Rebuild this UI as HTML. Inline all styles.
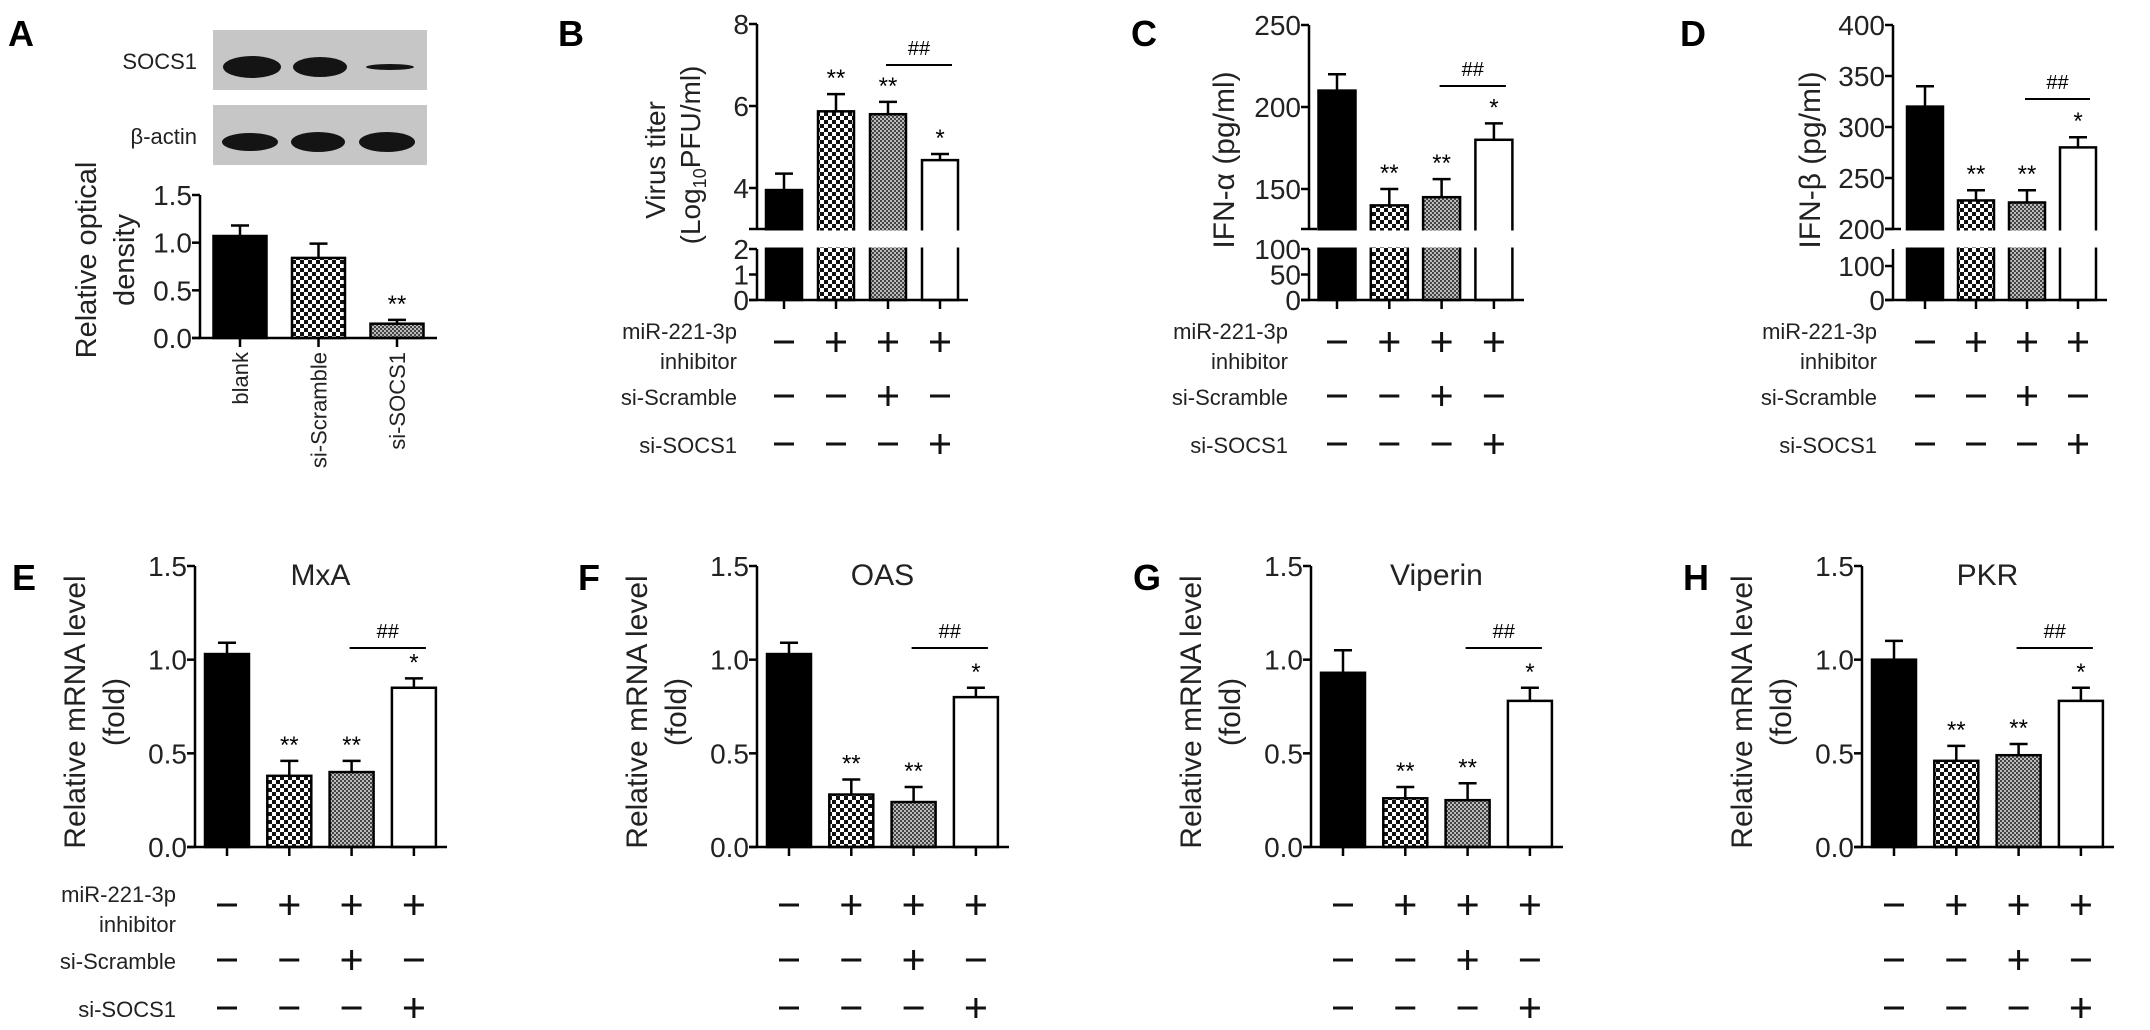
<!DOCTYPE html>
<html><head><meta charset="utf-8"><style>
html,body{margin:0;padding:0;background:#fff;}
svg{display:block;font-family:"Liberation Sans",Arial,sans-serif;}
</style></head><body>
<svg id="fig" width="2150" height="1030" viewBox="0 0 2150 1030" xmlns="http://www.w3.org/2000/svg">
<defs>
<pattern id="checker" width="8" height="8" patternUnits="userSpaceOnUse"><rect width="8" height="8" fill="#fff"/><rect width="4" height="4" fill="#111"/><rect x="4" y="4" width="4" height="4" fill="#111"/></pattern>
<pattern id="fine" width="4" height="4" patternUnits="userSpaceOnUse"><rect width="4" height="4" fill="#bbb"/><rect width="2" height="2" fill="#444"/><rect x="2" y="2" width="2" height="2" fill="#444"/></pattern>
</defs>
<g id="root"></g>
</svg>
<script>
// ---- data ----
const aCats = ["blank","si-Scramble","si-SOCS1"];
const aVals = [1.07, 0.84, 0.15];
const aErr = [0.11, 0.15, 0.04];
const aSig = ["", "", "**"];
const aTicks = ["0.0","0.5","1.0","1.5"];
const aTickVals = [0, 0.5, 1.0, 1.5];

const bVals = [3.95, 5.87, 5.80, 4.68];
const bErr = [0.40, 0.42, 0.30, 0.15];
const bTickVals = [0, 1, 2, 4, 6, 8];
const bTicks = ["0","1","2","4","6","8"];

const cVals = [210, 140, 145, 180];
const cErr = [10, 10, 11, 10];
const cTickVals = [0, 50, 100, 150, 200, 250];
const cTicks = ["0","50","100","150","200","250"];

const dVals = [320, 228, 226, 280];
const dErr = [20, 10, 12, 10];
const dTickVals = [0, 100, 200, 250, 300, 350, 400];
const dTicks = ["0","100","200","250","300","350","400"];

const eVals = [1.03, 0.38, 0.40, 0.85];
const eErr = [0.06, 0.08, 0.06, 0.05];
const fVals = [1.03, 0.28, 0.24, 0.80];
const fErr = [0.06, 0.08, 0.08, 0.05];
const gVals = [0.93, 0.26, 0.25, 0.78];
const gErr = [0.12, 0.06, 0.09, 0.07];
const hVals = [1.00, 0.46, 0.49, 0.78];
const hErr = [0.10, 0.08, 0.06, 0.07];
const mTickVals = [0, 0.5, 1.0, 1.5];
const mTicks = ["0.0","0.5","1.0","1.5"];

const sig4 = ["", "**", "**", "*"];
const inhSigns = ["-","+","+","+"];
const scrSigns = ["-","-","+","-"];
const socSigns = ["-","-","-","+"];

// ---- helpers ----
const NS = "http://www.w3.org/2000/svg";
const root = document.getElementById("root");
function el(tag, attrs, parent, txt){
  const e = document.createElementNS(NS, tag);
  for (const k in attrs) e.setAttribute(k, attrs[k]);
  if (txt !== undefined) e.textContent = txt;
  (parent || root).appendChild(e);
  return e;
}
const fills = ["#000", "url(#checker)", "url(#fine)", "#fff"];

function makeScale(segs){
  return function(v){
    for (const s of segs){
      if (v >= s.v0 && v <= s.v1) return s.y0 + (v - s.v0) / (s.v1 - s.v0) * (s.y1 - s.y0);
    }
    const lo = segs[0], hi = segs[segs.length-1];
    if (v > hi.v1) return hi.y1 + (v - hi.v1) / (hi.v1 - hi.v0) * (hi.y1 - hi.y0);
    return hi.y0;
  };
}

function panel(p){
  const g = el("g", {});
  
  
  const y = makeScale(p.segs);
  const nb = p.vals.length;
  const xc = i => p.ax + p.first + i * p.step;
  const y0 = y(0);
  // bars
  for (let i = 0; i < nb; i++){
    const top = y(p.vals[i]);
    const r = el("rect", {x: xc(i) - p.bw/2, y: top, width: p.bw, height: y0 - top,
      fill: p.fills[i], stroke: "#000", "stroke-width": 2.5}, g);
    
    
    const et = y(p.vals[i] + p.err[i]);
    el("line", {x1: xc(i), x2: xc(i), y1: top, y2: et, stroke: "#000", "stroke-width": 2.5}, g);
    el("line", {x1: xc(i) - 9, x2: xc(i) + 9, y1: et, y2: et, stroke: "#000", "stroke-width": 2.5}, g);
    if (p.sig[i]){
      const s = el("text", {x: xc(i), y: et - 8, "text-anchor": "middle", "font-size": 24}, g, p.sig[i]);
      
      
    }
  }
  // break gap
  if (p.segs.length > 1){
    const lower = p.segs[0], upper = p.segs[1];
    el("rect", {x: p.ax - 12, y: upper.y0 + 1.5, width: p.xEnd - p.ax + 20, height: lower.y1 - upper.y0 - 3, fill: "#fff"}, g);
    el("line", {x1: p.ax, x2: p.ax, y1: y(p.segs[1].v1), y2: upper.y0, stroke: "#000", "stroke-width": 2.5}, g);
    el("line", {x1: p.ax - 8, x2: p.ax + 8, y1: upper.y0, y2: upper.y0, stroke: "#000", "stroke-width": 2.5}, g);
    el("line", {x1: p.ax, x2: p.ax, y1: lower.y1, y2: y0, stroke: "#000", "stroke-width": 2.5}, g);
  } else {
    el("line", {x1: p.ax, x2: p.ax, y1: y(p.tickVals[p.tickVals.length-1]), y2: y0, stroke: "#000", "stroke-width": 2.5}, g);
  }
  el("line", {x1: p.ax - 8, x2: p.xEnd, y1: y0, y2: y0, stroke: "#000", "stroke-width": 2.5}, g);
  // y ticks
  for (let i = 0; i < p.tickVals.length; i++){
    const ty = y(p.tickVals[i]);
    el("line", {x1: p.ax - 8, x2: p.ax, y1: ty, y2: ty, stroke: "#000", "stroke-width": 2.5}, g);
    const t = el("text", {x: p.ax - 8, y: ty + 10, "text-anchor": "end", "font-size": p.tfs, fill: "#222"}, g, p.ticks[i]);
    
    
  }
  // x ticks
  for (let i = 0; i < nb; i++) el("line", {x1: xc(i), x2: xc(i), y1: y0, y2: y0 + 9, stroke: "#000", "stroke-width": 2.5}, g);
  // ## bracket
  if (p.hash){
    const hl = el("line", {x1: xc(2) - 2, x2: xc(3) + 12, y1: p.hashY, y2: p.hashY, stroke: "#000", "stroke-width": 2}, g);
    
    
    el("text", {x: (xc(2) + xc(3)) / 2 + 5, y: p.hashY - 10, "text-anchor": "middle", "font-size": 20}, g, "##");
  }
  // sign rows
  if (p.rows){
    const rows = [inhSigns, scrSigns, socSigns];
    rows.forEach((row, r) => {
      row.forEach((s, i) => {
        const cx = xc(i), cy = p.rows[r];
        el("line", {x1: cx - 10, x2: cx + 10, y1: cy, y2: cy, stroke: "#111", "stroke-width": 3}, g);
        if (s === "+") el("line", {x1: cx, x2: cx, y1: cy - 10, y2: cy + 10, stroke: "#111", "stroke-width": 3}, g);
      });
    });
    if (p.rowLabels){
      const lx = p.labelX, fs = 22;
      const l1 = el("text", {x: lx, y: p.rows[0] - 3, "text-anchor": "end", "font-size": fs, fill: "#222"}, g, "miR-221-3p");
      
      
      el("text", {x: lx, y: p.rows[0] + 27, "text-anchor": "end", "font-size": fs, fill: "#222"}, g, "inhibitor");
      const l2 = el("text", {x: lx, y: p.rows[1] + 9, "text-anchor": "end", "font-size": fs, fill: "#222"}, g, "si-Scramble");
      
      
      const l3 = el("text", {x: lx, y: p.rows[2] + 9, "text-anchor": "end", "font-size": fs, fill: "#222"}, g, "si-SOCS1");
      
      
    }
  }
  return {g, xc, y};
}

function panelLetter(t, x, yy){
  const e = el("text", {x: x, y: yy, "font-size": 36, "font-weight": "bold"}, root, t);
  
  
}
function vtext(lines, cy, fs, name){
  lines.forEach(([txt, x]) => {
    const e = el("text", {x: 0, y: 0, transform: `translate(${x},${cy}) rotate(-90)`, "text-anchor": "middle", "font-size": fs, fill: "#222"}, root, txt);
    
    
  });
}

// ---- Panel A ----
panelLetter("A", 8, 46);
// blots
const blotX0 = 213, blotW = 214;
const socsBands = [[252, 58, 11], [320, 54, 10], [390, 48, 3]];
const actBands = [[250, 56, 9], [318, 54, 10], [387, 56, 10]];
[[30, socsBands, "SOCS1", "socs1-blot"], [105, actBands, "β-actin", "beta-actin-blot"]].forEach(([by, bands, lbl, nm]) => {
  const r = el("rect", {x: blotX0, y: by, width: blotW, height: 60, fill: "#c6c6c6"});
  
  
  bands.forEach(([cx, w, h]) => el("ellipse", {cx: cx, cy: by + 37, rx: w/2, ry: h, fill: "#141414"}));
  const t = el("text", {x: 197, y: by + 39, "text-anchor": "end", "font-size": 22, fill: "#222"}, root, lbl);
  
  
});
const pA = panel({name: "panel-a-chart", vals: aVals, err: aErr, sig: aSig, fills: fills,
  ax: 200, first: 40, step: 78.5, bw: 53, xEnd: 437,
  segs: [{v0: 0, v1: 1.5, y0: 338, y1: 195}], tickVals: aTickVals, ticks: aTicks, tfs: 28});
aCats.forEach((c, i) => {
  const e = el("text", {x: 0, y: 0, transform: `translate(${pA.xc(i) + 8},352) rotate(-90)`, "text-anchor": "end", "font-size": 22, fill: "#222"}, root, c);
  
  
});
vtext([["Relative optical", 96], ["density", 134]], 260, 29, "y-axis-title-a");

// ---- Panel B ----
panelLetter("B", 558, 46);
panel({name: "panel-b-chart", vals: bVals, err: bErr, sig: sig4, fills: fills,
  ax: 757, first: 27, step: 52, bw: 36, xEnd: 968,
  segs: [{v0: 0, v1: 2, y0: 300, y1: 249}, {v0: 3, v1: 8, y0: 229, y1: 24}],
  tickVals: bTickVals, ticks: bTicks, tfs: 28, hash: true, hashY: 65,
  rows: [342, 396, 444], rowLabels: true, labelX: 737});
vtext([["Virus titer", 665]], 160, 28, "y-axis-title-b");
(function(){
  const e = el("text", {x: 0, y: 0, transform: "translate(700,155) rotate(-90)", "text-anchor": "middle", "font-size": 28, fill: "#222"});
  
  
  el("tspan", {}, e, "(Log");
  el("tspan", {"font-size": 18, dy: 6}, e, "10");
  el("tspan", {dy: -6}, e, "PFU/ml)");
})();

// ---- Panel C ----
panelLetter("C", 1131, 46);
panel({name: "panel-c-chart", vals: cVals, err: cErr, sig: sig4, fills: fills,
  ax: 1309, first: 28, step: 52.3, bw: 37, xEnd: 1524,
  segs: [{v0: 0, v1: 100, y0: 300, y1: 249}, {v0: 125.6, v1: 250, y0: 229, y1: 25}],
  tickVals: cTickVals, ticks: cTicks, tfs: 28, hash: true, hashY: 86,
  rows: [342, 396, 444], rowLabels: true, labelX: 1288});
vtext([["IFN-α (pg/ml)", 1234]], 160, 30, "y-axis-title-c");

// ---- Panel D ----
panelLetter("D", 1680, 46);
panel({name: "panel-d-chart", vals: dVals, err: dErr, sig: sig4, fills: fills,
  ax: 1893, first: 32, step: 51, bw: 36, xEnd: 2107,
  segs: [{v0: 0, v1: 150, y0: 300, y1: 249}, {v0: 200, v1: 400, y0: 229, y1: 25}],
  tickVals: dTickVals, ticks: dTicks, tfs: 28, hash: true, hashY: 99,
  rows: [342, 396, 444], rowLabels: true, labelX: 1877});
vtext([["IFN-β (pg/ml)", 1820]], 160, 30, "y-axis-title-d");

// ---- Bottom row ----
const bottom = [
  {L: "E", ax: 195, vals: eVals, err: eErr, title: "MxA", labels: true, letterX: 12},
  {L: "F", ax: 757, vals: fVals, err: fErr, title: "OAS", labels: false, letterX: 578},
  {L: "G", ax: 1311, vals: gVals, err: gErr, title: "Viperin", labels: false, letterX: 1133},
  {L: "H", ax: 1862, vals: hVals, err: hErr, title: "PKR", labels: false, letterX: 1683}
];
bottom.forEach(b => {
  panelLetter(b.L, b.letterX, 590);
  const p = panel({name: "panel-" + b.L.toLowerCase() + "-chart", vals: b.vals, err: b.err, sig: sig4, fills: fills,
    ax: b.ax, first: 32, step: 62.3, bw: 44, xEnd: b.ax + 252,
    segs: [{v0: 0, v1: 1.5, y0: 847, y1: 566}],
    tickVals: mTickVals, ticks: mTicks, tfs: 28, hash: true, hashY: 648,
    rows: [905, 960, 1008], rowLabels: b.labels, labelX: 176});
  const t = el("text", {x: (p.xc(1) + p.xc(2)) / 2, y: 585, "text-anchor": "middle", "font-size": 30, fill: "#222"}, root, b.title);
  
  
  vtext([["Relative mRNA level", b.ax - 110], ["(fold)", b.ax - 71]], 712, 30, "y-axis-title-" + b.L.toLowerCase());
});
</script>
</body></html>
